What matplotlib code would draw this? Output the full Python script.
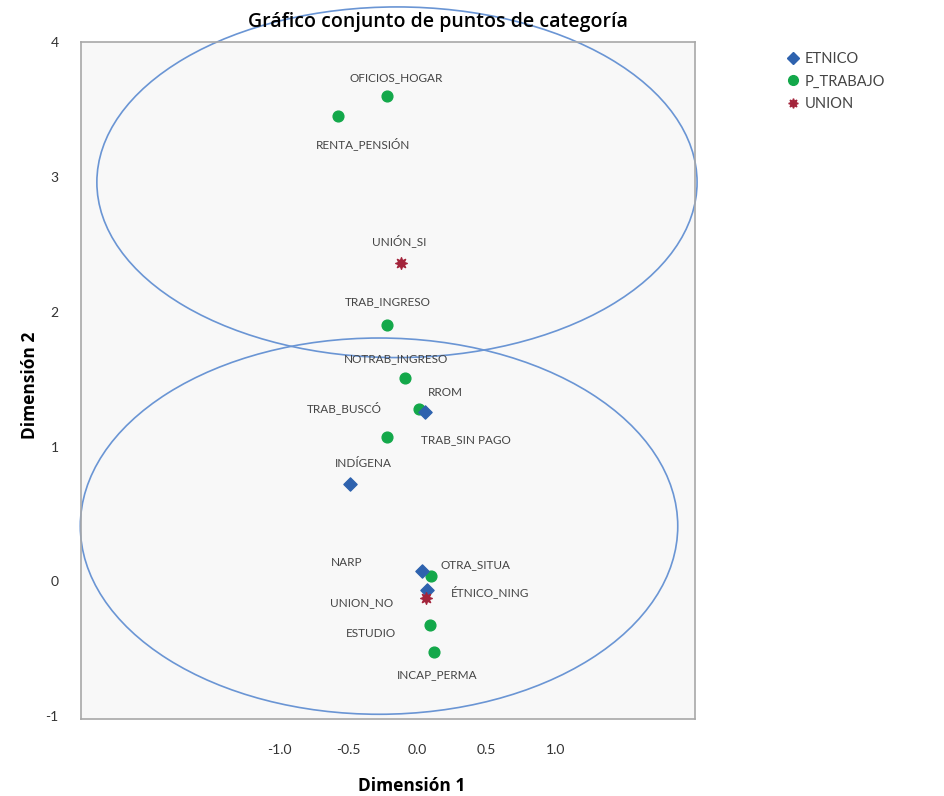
import matplotlib.pyplot as plt
from matplotlib.patches import Ellipse
from matplotlib.lines import Line2D

plt.rcParams['font.family'] = ['Lato', 'DejaVu Sans']
plt.rcParams['axes.unicode_minus'] = False

# category points (Dimensión 1, Dimensión 2)
etnico_names = ["RROM", "INDÍGENA", "NARP", "ÉTNICO_NING"]
etnico_x = [0.05, -0.49, 0.03, 0.07]
etnico_y = [1.26, 0.72, 0.08, -0.06]

trabajo_names = ["OFICIOS_HOGAR", "RENTA_PENSIÓN", "TRAB_INGRESO", "NOTRAB_INGRESO",
                 "TRAB_BUSCÓ", "TRAB_SIN PAGO", "OTRA_SITUA", "ESTUDIO", "INCAP_PERMA"]
trabajo_x = [-0.22, -0.58, -0.22, -0.09, 0.01, -0.22, 0.10, 0.09, 0.12]
trabajo_y = [3.60, 3.45, 1.90, 1.51, 1.28, 1.07, 0.04, -0.32, -0.52]

union_names = ["UNIÓN_SI", "UNION_NO"]
union_x = [-0.12, 0.06]
union_y = [2.36, -0.12]

# ellipses: center x, center y, width, height
ellipses = [(-0.15, 2.96, 4.35, 2.6), (-0.28, 0.41, 4.33, 2.79)]

xticks = [-1.0, -0.5, 0.0, 0.5, 1.0]
yticks = [-1, 0, 1, 2, 3, 4]

# label offsets in pixels
offsets = {
    "OFICIOS_HOGAR": (9, 18), "RENTA_PENSIÓN": (25, -27), "UNIÓN_SI": (-2, 23),
    "TRAB_INGRESO": (0, 24), "NOTRAB_INGRESO": (-9, 19), "RROM": (21, 19),
    "TRAB_BUSCÓ": (-75, 1), "TRAB_SIN PAGO": (79, -2), "INDÍGENA": (13, 21),
    "NARP": (-75, 8), "OTRA_SITUA": (44, 11), "ÉTNICO_NING": (63, -2),
    "UNION_NO": (-64, -5), "ESTUDIO": (-59, -9), "INCAP_PERMA": (3, -23),
}

c_blue = "#2e62ae"
c_green = "#13a84a"
c_red = "#a3243b"
c_ell = "#6a95d4"

fig = plt.figure(figsize=(9.44, 7.96), dpi=100)
ax = fig.add_axes([81/944, 1-719/796, 614/944, 677/796])
ax.set_facecolor("#f8f8f8")
for s in ax.spines.values():
    s.set_color("#a8a8a8")
    s.set_linewidth(1.2)

ax.set_xlim(-2.44, 2.01)
ax.set_ylim(-1.02, 3.96)

for cx, cy, w, h in ellipses:
    ax.add_patch(Ellipse((cx, cy), w, h, fill=False, ec=c_ell, lw=1.2, clip_on=False, zorder=2))

ax.scatter(trabajo_x, trabajo_y, marker="o", s=60, color=c_green, zorder=3)
ax.scatter(etnico_x, etnico_y, marker="D", s=45, color=c_blue, zorder=4)
ax.scatter(union_x, union_y, marker=(8, 1, 0), s=70, color=c_red, zorder=5)

for names, xs, ys in [(trabajo_names, trabajo_x, trabajo_y),
                      (etnico_names, etnico_x, etnico_y),
                      (union_names, union_x, union_y)]:
    for n, x, y in zip(names, xs, ys):
        ax.annotate(n, (x, y), xytext=offsets[n], textcoords="offset pixels",
                    ha="center", va="center", fontsize=8.5, color="#444444", zorder=6)

ax.set_xticks(xticks)
ax.set_xticklabels(["%.1f" % t for t in xticks])
ax.set_yticks(yticks)
ax.tick_params(axis="both", length=0, labelsize=10, colors="#333333")
ax.tick_params(axis="x", pad=18)
ax.tick_params(axis="y", pad=16)

fig.text(438/944, 1-22/796, "Gráfico conjunto de puntos de categoría", ha="center",
         va="center", fontsize=14, fontweight="semibold", family=["Open Sans", "DejaVu Sans"])
fig.text(412/944, 1-786/796, "Dimensión 1", ha="center", va="center", fontsize=12.5,
         fontweight="bold", family=["Open Sans", "DejaVu Sans"])
fig.text(30/944, 1-385/796, "Dimensión 2", ha="center", va="center", rotation=90,
         fontsize=12.5, fontweight="bold", family=["Open Sans", "DejaVu Sans"])

handles = [
    Line2D([], [], marker="D", ls="", color=c_blue, markersize=6),
    Line2D([], [], marker="o", ls="", color=c_green, markersize=7),
    Line2D([], [], marker=(8, 1, 0), ls="", color=c_red, markersize=7),
]
fig.legend(handles, ["ETNICO", "P_TRABAJO", "UNION"], loc="upper left",
           bbox_to_anchor=(780/944, 1-46/796), frameon=False, fontsize=10.5,
           handletextpad=0.3, labelspacing=0.6, borderaxespad=0, handlelength=1.0,
           labelcolor="#444444")

fig.savefig("out.png", dpi=100)
